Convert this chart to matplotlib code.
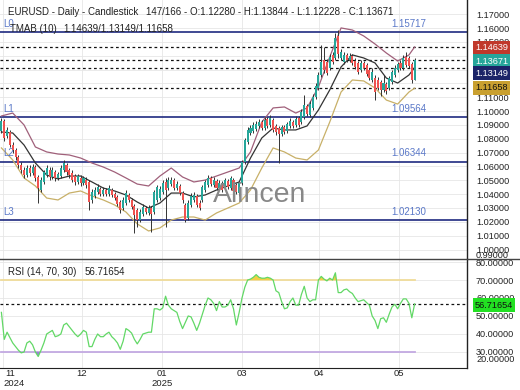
import matplotlib
matplotlib.use("Agg")
import matplotlib.pyplot as plt
import matplotlib.transforms as mtransforms
from matplotlib.lines import Line2D
import numpy as np

plt.rcParams["font.family"] = ["Liberation Sans", "DejaVu Sans"]

# ---------------- data ----------------
opens = [
    1.0856, 1.0929, 1.0820, 1.0849, 1.0755, 1.0719, 1.0669, 1.0611, 1.0575, 1.0538,
    1.0589, 1.0553, 1.0596, 1.0524, 1.0430, 1.0488, 1.0538, 1.0575, 1.0524, 1.0560,
    1.0517, 1.0531, 1.0575, 1.0611, 1.0575, 1.0553, 1.0531, 1.0488, 1.0517, 1.0481,
    1.0502, 1.0488, 1.0358, 1.0387, 1.0416, 1.0437, 1.0401, 1.0430, 1.0401, 1.0430,
    1.0401, 1.0380, 1.0343, 1.0300, 1.0336, 1.0394, 1.0358, 1.0315, 1.0286, 1.0213,
    1.0257, 1.0300, 1.0264, 1.0300, 1.0271, 1.0358, 1.0372, 1.0416, 1.0488, 1.0444,
    1.0473, 1.0502, 1.0444, 1.0459, 1.0408, 1.0322, 1.0228, 1.0322, 1.0358, 1.0387,
    1.0336, 1.0358, 1.0430, 1.0466, 1.0517, 1.0466, 1.0495, 1.0444, 1.0481, 1.0444,
    1.0495, 1.0444, 1.0502, 1.0466, 1.0408, 1.0481, 1.0632, 1.0777, 1.0842, 1.0856,
    1.0871, 1.0893, 1.0921, 1.0878, 1.0943, 1.0900, 1.0936, 1.0893, 1.0878, 1.0835,
    1.0885, 1.0856, 1.0893, 1.0921, 1.0900, 1.0950, 1.0921, 1.0958, 1.1037, 1.0972,
    1.1023, 1.1102, 1.1167, 1.1261, 1.1369, 1.1355, 1.1312, 1.1406, 1.1384, 1.1543,
    1.1384, 1.1355, 1.1406, 1.1369, 1.1398, 1.1362, 1.1348, 1.1297, 1.1348, 1.1333,
    1.1297, 1.1225, 1.1239, 1.1225, 1.1210, 1.1153, 1.1196, 1.1167, 1.1210, 1.1261,
    1.1297, 1.1348, 1.1312, 1.1391, 1.1384, 1.1341, 1.12280,
]
highs = [
    1.0950, 1.0943, 1.0885, 1.0864, 1.0777, 1.0734, 1.0683, 1.0632, 1.0596, 1.0611,
    1.0611, 1.0618, 1.0611, 1.0538, 1.0524, 1.0575, 1.0611, 1.0596, 1.0596, 1.0575,
    1.0560, 1.0611, 1.0647, 1.0625, 1.0589, 1.0575, 1.0546, 1.0546, 1.0538, 1.0531,
    1.0524, 1.0502, 1.0437, 1.0452, 1.0473, 1.0452, 1.0452, 1.0444, 1.0466, 1.0444,
    1.0416, 1.0394, 1.0358, 1.0380, 1.0430, 1.0408, 1.0372, 1.0329, 1.0300, 1.0293,
    1.0329, 1.0315, 1.0322, 1.0315, 1.0430, 1.0466, 1.0459, 1.0502, 1.0517, 1.0524,
    1.0524, 1.0517, 1.0495, 1.0473, 1.0423, 1.0336, 1.0358, 1.0408, 1.0416, 1.0401,
    1.0358, 1.0466, 1.0502, 1.0538, 1.0531, 1.0524, 1.0510, 1.0502, 1.0495, 1.0517,
    1.0510, 1.0531, 1.0517, 1.0481, 1.0495, 1.0647, 1.0806, 1.0885, 1.0900, 1.0921,
    1.0929, 1.0943, 1.0936, 1.0958, 1.0958, 1.0972, 1.0950, 1.0907, 1.0893, 1.0900,
    1.0900, 1.0921, 1.0950, 1.0936, 1.0965, 1.0965, 1.1015, 1.1116, 1.1051, 1.1073,
    1.1124, 1.1203, 1.1283, 1.1478, 1.1463, 1.1377, 1.1413, 1.1427, 1.1565, 1.1586,
    1.1449, 1.1427, 1.1420, 1.1420, 1.1413, 1.1384, 1.1362, 1.1369, 1.1362, 1.1348,
    1.1312, 1.1312, 1.1261, 1.1247, 1.1225, 1.1261, 1.1210, 1.1254, 1.1297, 1.1333,
    1.1355, 1.1369, 1.1406, 1.1427, 1.1398, 1.1355, 1.13844,
]
lows = [
    1.0842, 1.0784, 1.0806, 1.0741, 1.0697, 1.0647, 1.0589, 1.0553, 1.0517, 1.0524,
    1.0531, 1.0538, 1.0495, 1.0336, 1.0416, 1.0473, 1.0524, 1.0502, 1.0510, 1.0495,
    1.0502, 1.0517, 1.0560, 1.0538, 1.0517, 1.0488, 1.0466, 1.0473, 1.0459, 1.0466,
    1.0444, 1.0286, 1.0336, 1.0372, 1.0401, 1.0387, 1.0387, 1.0387, 1.0387, 1.0380,
    1.0358, 1.0315, 1.0264, 1.0286, 1.0322, 1.0343, 1.0293, 1.0119, 1.0163, 1.0199,
    1.0242, 1.0257, 1.0249, 1.0127, 1.0257, 1.0343, 1.0358, 1.0401, 1.0163, 1.0430,
    1.0459, 1.0430, 1.0430, 1.0394, 1.0336, 1.0199, 1.0213, 1.0307, 1.0343, 1.0307,
    1.0286, 1.0343, 1.0416, 1.0452, 1.0459, 1.0452, 1.0430, 1.0430, 1.0416, 1.0430,
    1.0437, 1.0430, 1.0408, 1.0401, 1.0387, 1.0466, 1.0618, 1.0763, 1.0827, 1.0842,
    1.0856, 1.0878, 1.0864, 1.0864, 1.0878, 1.0885, 1.0849, 1.0827, 1.0625, 1.0820,
    1.0835, 1.0842, 1.0878, 1.0878, 1.0885, 1.0885, 1.0907, 1.0943, 1.0965, 1.0958,
    1.1008, 1.1088, 1.1153, 1.1247, 1.1275, 1.1261, 1.1297, 1.1341, 1.1369, 1.1384,
    1.1369, 1.1341, 1.1355, 1.1355, 1.1333, 1.1304, 1.1268, 1.1283, 1.1297, 1.1254,
    1.1225, 1.1210, 1.1080, 1.1153, 1.1109, 1.1138, 1.1124, 1.1153, 1.1196, 1.1247,
    1.1283, 1.1297, 1.1297, 1.1319, 1.1312, 1.1203, 1.12228,
]
closes = [
    1.0929, 1.0806, 1.0864, 1.0755, 1.0719, 1.0669, 1.0611, 1.0575, 1.0538, 1.0589,
    1.0553, 1.0596, 1.0517, 1.0444, 1.0502, 1.0560, 1.0589, 1.0524, 1.0575, 1.0517,
    1.0546, 1.0589, 1.0625, 1.0560, 1.0538, 1.0502, 1.0488, 1.0531, 1.0481, 1.0517,
    1.0466, 1.0343, 1.0416, 1.0430, 1.0452, 1.0401, 1.0430, 1.0401, 1.0444, 1.0394,
    1.0372, 1.0329, 1.0286, 1.0358, 1.0408, 1.0358, 1.0307, 1.0249, 1.0213, 1.0271,
    1.0307, 1.0271, 1.0300, 1.0257, 1.0416, 1.0452, 1.0437, 1.0481, 1.0430, 1.0502,
    1.0502, 1.0444, 1.0473, 1.0408, 1.0358, 1.0213, 1.0336, 1.0387, 1.0394, 1.0322,
    1.0300, 1.0452, 1.0488, 1.0517, 1.0473, 1.0502, 1.0444, 1.0481, 1.0430, 1.0502,
    1.0452, 1.0517, 1.0423, 1.0416, 1.0481, 1.0632, 1.0791, 1.0864, 1.0878, 1.0900,
    1.0907, 1.0921, 1.0878, 1.0936, 1.0893, 1.0950, 1.0864, 1.0849, 1.0835, 1.0885,
    1.0849, 1.0907, 1.0929, 1.0893, 1.0943, 1.0900, 1.0994, 1.1044, 1.0979, 1.1051,
    1.1102, 1.1182, 1.1261, 1.1355, 1.1297, 1.1275, 1.1391, 1.1355, 1.1528, 1.1413,
    1.1427, 1.1406, 1.1369, 1.1398, 1.1348, 1.1319, 1.1283, 1.1348, 1.1312, 1.1268,
    1.1239, 1.1283, 1.1138, 1.1167, 1.1153, 1.1203, 1.1145, 1.1239, 1.1283, 1.1312,
    1.1341, 1.1312, 1.1384, 1.1333, 1.1326, 1.1225, 1.13671,
]

# TMA bands (10), read every 4 bars plus the last bar
band_bars = [0, 4, 8, 12, 16, 20, 24, 28, 32, 36, 40, 44, 48, 52, 56, 60, 64, 68, 72,
             76, 80, 84, 88, 92, 96, 100, 104, 108, 112, 116, 120, 124, 128, 132,
             136, 140, 144, 146]
band_upper = [1.0965, 1.0986, 1.0900, 1.0741, 1.0705, 1.0690, 1.0683, 1.0661, 1.0625,
              1.0596, 1.0560, 1.0517, 1.0473, 1.0459, 1.0531, 1.0589, 1.0524, 1.0488,
              1.0502, 1.0531, 1.0560, 1.0589, 1.0705, 1.0921, 1.1023, 1.1030, 1.0986,
              1.1023, 1.1174, 1.1391, 1.1601, 1.1586, 1.1543, 1.1485, 1.1420, 1.1362,
              1.1406, 1.14639]
band_mid = [1.0849, 1.0842, 1.0755, 1.0625, 1.0538, 1.0510, 1.0531, 1.0531, 1.0488,
            1.0444, 1.0423, 1.0394, 1.0343, 1.0300, 1.0336, 1.0408, 1.0408, 1.0380,
            1.0394, 1.0430, 1.0459, 1.0488, 1.0661, 1.0806, 1.0878, 1.0864, 1.0864,
            1.0893, 1.1008, 1.1153, 1.1319, 1.1406, 1.1384, 1.1348, 1.1239, 1.1203,
            1.1261, 1.13149]
band_lower = [1.0734, 1.0647, 1.0517, 1.0459, 1.0372, 1.0358, 1.0408, 1.0423, 1.0387,
              1.0358, 1.0322, 1.0271, 1.0185, 1.0134, 1.0156, 1.0213, 1.0235, 1.0235,
              1.0213, 1.0264, 1.0300, 1.0336, 1.0430, 1.0589, 1.0734, 1.0705, 1.0661,
              1.0647, 1.0719, 1.0921, 1.1138, 1.1225, 1.1218, 1.1167, 1.1080, 1.1051,
              1.1138, 1.11658]

rsi_values = [
    52, 37, 41, 38, 35, 33, 31, 29.5, 30, 35, 36, 34, 30, 27.5, 31, 35, 40, 41, 42, 38.5,
    39, 40, 45, 46, 44, 42, 40, 38.5, 40, 42, 41, 33, 33, 37, 40, 38.5, 38.5, 40, 41, 38.5,
    37, 35, 31.5, 36, 43, 42, 40.5, 37, 34.5, 37, 40, 40.5, 41, 41, 54, 54, 53.3, 54.5, 61, 56,
    54, 53, 52, 47, 43, 46.5, 50, 49.5, 46, 42, 46, 51, 56, 60, 59, 57, 53, 58, 55, 55,
    56, 59, 54, 45, 52, 60, 66, 70, 70.5, 71.5, 73, 71.5, 71, 71, 71.5, 71, 70, 64, 63, 58,
    54, 54.5, 58, 60, 56, 56, 62, 66.5, 60, 58, 59, 59, 70, 72, 70.5, 69.5, 71, 70, 74, 63,
    63, 64.5, 65, 63.5, 62.5, 60, 58, 58.5, 59, 57.5, 56, 50, 47.5, 43, 48.5, 49, 46.5, 51,
    55, 56.5, 54, 57, 59.5, 59.5, 57, 49, 56.71654,
]

levels = [1.15717, 1.09564, 1.06344, 1.02130]
level_names = ["L0", "L1", "L2", "L3"]
tma_last = [1.14639, 1.13149, 1.11658]
last_close = 1.13671
rsi_last = 56.71654

month_pos = [0.5, 28.5, 56.7, 85.0, 112.2, 140.5]
month_labels = ["11", "12", "01", "03", "04", "05"]
year_labels = {0: "2024", 2: "2025"}

price_ticks = [1.00, 1.01, 1.02, 1.03, 1.04, 1.05, 1.06, 1.07, 1.08, 1.09,
               1.10, 1.11, 1.12, 1.13, 1.14, 1.15, 1.16, 1.17]
hidden_ticks = [1.12, 1.13, 1.14]   # covered by the value boxes
rsi_ticks = [30, 40, 50, 60, 70, 80]

# ---------------- figure ----------------
W, H = 520, 390
fig = plt.figure(figsize=(W / 100, H / 100), dpi=100)
fig.patch.set_facecolor("white")


def fx(px):
    return px / W


def fy(py):
    return 1 - py / H


ax = fig.add_axes([0, fy(259), fx(467), 259 / H])
rx = fig.add_axes([0, fy(368), fx(467), 109 / H], sharex=ax)

n = len(closes)
x = np.arange(n)
up_col = "#26a69a"
dn_col = "#ef5350"

for a in (ax, rx):
    for s in ("left", "top", "bottom"):
        a.spines[s].set_visible(False)
    a.spines["right"].set_color("#222222")
    a.spines["right"].set_linewidth(1.0)
    a.yaxis.tick_right()
    a.tick_params(axis="y", length=0, pad=6.5, labelsize=6.6, colors="#222222")
    a.tick_params(axis="x", length=0, labelbottom=False)
    a.set_xticks(month_pos)
    a.grid(True, color="#e6e6e6", linewidth=0.6)
    a.set_axisbelow(True)
rx.spines["bottom"].set_visible(True)
rx.spines["bottom"].set_color("#222222")

ax.set_xlim(-0.5, 164.5)
ax.set_ylim(0.99315, 1.18029)
ax.set_yticks(price_ticks)
ax.set_yticklabels(["" if t in hidden_ticks else f"{t:.5f}" for t in price_ticks])

# watermark
fig.text(fx(213), fy(195), "Alincen", fontsize=20.5, color="#888888",
         ha="left", va="center", zorder=0)

# levels
for lv in levels:
    ax.axhline(lv, color="#1f2a80", linewidth=1.2, zorder=2)
for lv in tma_last + [last_close]:
    ax.axhline(lv, color="#111111", linewidth=0.9, linestyle=(0, (2.2, 2.2)), zorder=2)

# bands
ax.plot(band_bars, band_upper, color="#a0607a", linewidth=0.9, zorder=3)
ax.plot(band_bars, band_mid, color="#333333", linewidth=0.9, zorder=3)
ax.plot(band_bars, band_lower, color="#c8b068", linewidth=0.9, zorder=3)

# candles
o = np.array(opens)
c = np.array(closes)
cols = [up_col if cc >= oo else dn_col for oo, cc in zip(o, c)]
ax.vlines(x, lows, highs, color="#333333", linewidth=0.7, zorder=4)
ax.bar(x, np.abs(c - o) + 0.0002, bottom=np.minimum(o, c), width=0.72,
       color=cols, linewidth=0, zorder=5)

# level labels
lab_col = "#5a78c8"
for lv, nm in zip(levels, level_names):
    ax.annotate(nm, (0, lv), xycoords=("axes fraction", "data"),
                xytext=(2, 2.5), textcoords="offset points",
                fontsize=7, color=lab_col, ha="left", va="bottom")
    ax.annotate(f"{lv:.5f}", (409 / 467, lv), xycoords=("axes fraction", "data"),
                xytext=(0, 2.5), textcoords="offset points",
                fontsize=7, color=lab_col, ha="center", va="bottom")

# titles
fig.text(fx(8), fy(12), "EURUSD - Daily - Candlestick", fontsize=7, color="#222222",
         ha="left", va="center")
fig.text(fx(146), fy(12), "147/166 - O:1.12280 - H:1.13844 - L:1.12228 - C:1.13671",
         fontsize=7, color="#222222", ha="left", va="center")
fig.text(fx(10), fy(29), "TMAB (10)", fontsize=7, color="#222222", ha="left", va="center")
fig.text(fx(63), fy(29), "/".join(f"{v:.5f}" for v in tma_last), fontsize=7,
         color="#222222", ha="left", va="center")

# right side value boxes
boxes = [(47.5, f"{tma_last[0]:.5f}", "#c0392b", "white"),
         (61, f"{last_close:.5f}", "#26a69a", "white"),
         (73, f"{tma_last[1]:.5f}", "#1c2468", "white"),
         (88, f"{tma_last[2]:.5f}", "#c9a030", "#111111")]
for yy, txt, bg, fg in boxes:
    fig.text(fx(475), fy(yy), txt, fontsize=6.6, color=fg, ha="left", va="center",
             bbox=dict(boxstyle="square,pad=0.22", facecolor=bg, edgecolor="none"),
             zorder=10)
fig.text(fx(476), fy(255), "0.99000", fontsize=6.6, color="#222222", ha="left", va="center")

# ---------------- RSI ----------------
rx.set_ylim(21.1, 81.67)
rx.set_yticks(rsi_ticks)
rx.set_yticklabels([f"{t:.5f}" for t in rsi_ticks])
rv = np.array(rsi_values)
rx.plot([0, n - 1], [70, 70], color="#f0dc9a", linewidth=1.3, zorder=2)
rx.plot([0, n - 1], [30, 30], color="#c3a9e2", linewidth=1.3, zorder=2)
rx.fill_between(x, rv, 70, where=rv > 70, interpolate=True, color="#f2cf45",
                linewidth=0, zorder=3)
rx.fill_between(x, rv, 30, where=rv < 30, interpolate=True, color="#9a80d8",
                linewidth=0, zorder=3)
rx.plot(x, rv, color="#62d866", linewidth=0.9, zorder=4)
rx.axhline(rsi_last, color="#111111", linewidth=0.9, linestyle=(0, (2.2, 2.2)), zorder=2)

fig.text(fx(8), fy(272), "RSI (14, 70, 30)", fontsize=7, color="#222222",
         ha="left", va="center")
fig.text(fx(85), fy(272), f"{rsi_last:.5f}", fontsize=7, color="#222222",
         ha="left", va="center")
fig.text(fx(475), fy(305), f"{rsi_last:.5f}", fontsize=6.6, color="#111111", ha="left",
         va="center", bbox=dict(boxstyle="square,pad=0.22", facecolor="#22e022",
                                edgecolor="none"), zorder=10)
fig.text(fx(476), fy(360), "20.00000", fontsize=6.6, color="#222222", ha="left", va="center")

# month labels
trans = mtransforms.blended_transform_factory(rx.transData, fig.transFigure)
for i, (pos, lab) in enumerate(zip(month_pos, month_labels)):
    ha = "left" if i == 0 else "center"
    xp = pos + 0.8 if i == 0 else pos
    rx.text(xp, fy(374), lab, transform=trans, fontsize=6.8, color="#222222",
            ha=ha, va="center")
    if i in year_labels:
        rx.text(pos if i else pos + 0.4, fy(384), year_labels[i], transform=trans,
                fontsize=6.8, color="#222222", ha=ha, va="center")

# separator between panels
fig.add_artist(Line2D([0, 1], [fy(259), fy(259)], color="#444444", linewidth=1.0,
                      transform=fig.transFigure))

fig.savefig("out.png", dpi=100, facecolor="white")
